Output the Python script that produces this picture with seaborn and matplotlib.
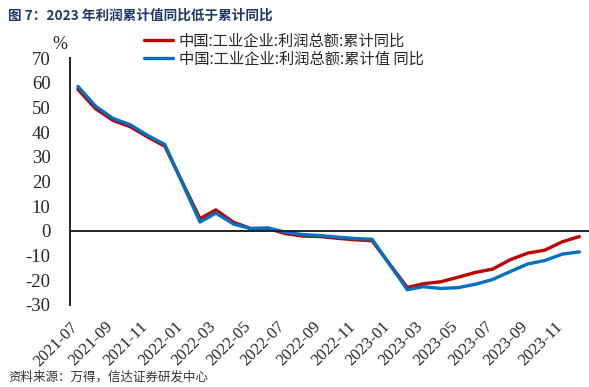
import pandas as pd
import numpy as np
import matplotlib
matplotlib.use('Agg')
import matplotlib.pyplot as plt
import matplotlib.dates as mdates
from matplotlib.font_manager import FontProperties
import seaborn as sns

# monthly data (no January release: Jan-Feb reported together)
months = ['2021-07', '2021-08', '2021-09', '2021-10', '2021-11', '2021-12',
          '2022-02', '2022-03', '2022-04', '2022-05', '2022-06', '2022-07',
          '2022-08', '2022-09', '2022-10', '2022-11', '2022-12',
          '2023-02', '2023-03', '2023-04', '2023-05', '2023-06', '2023-07',
          '2023-08', '2023-09', '2023-10', '2023-11', '2023-12']
profit_cum_yoy = [57.3, 49.5, 44.7, 42.2, 38.0, 34.3,
                  5.0, 8.5, 3.5, 1.0, 1.0, -1.1,
                  -2.1, -2.3, -3.0, -3.6, -4.0,
                  -22.9, -21.4, -20.6, -18.8, -16.8, -15.5,
                  -11.7, -9.0, -7.8, -4.4, -2.3]
profit_value_yoy = [58.5, 50.5, 45.5, 43.0, 38.6, 35.0,
                    3.6, 7.2, 2.8, 0.9, 1.2, -0.5,
                    -1.5, -1.9, -2.5, -3.1, -3.4,
                    -23.8, -22.6, -23.3, -23.0, -21.6, -19.7,
                    -16.5, -13.4, -12.0, -9.4, -8.5]
series_names = ['中国:工业企业:利润总额:累计同比', '中国:工业企业:利润总额:累计值 同比']
tick_months = ['2021-07', '2021-09', '2021-11', '2022-01', '2022-03', '2022-05',
               '2022-07', '2022-09', '2022-11', '2023-01', '2023-03', '2023-05',
               '2023-07', '2023-09', '2023-11']
y_ticks = list(range(-30, 71, 10))

cjk = ['Noto Sans CJK SC', 'DejaVu Sans']
serif = 'Liberation Serif'

sns.set_style('white')
plt.rcParams['font.family'] = cjk
plt.rcParams['axes.unicode_minus'] = False

dates = pd.to_datetime(months) + pd.Timedelta(days=14)
df = pd.concat([
    pd.DataFrame({'date': dates, 'value': profit_cum_yoy, 'series': series_names[0]}),
    pd.DataFrame({'date': dates, 'value': profit_value_yoy, 'series': series_names[1]}),
])

fig = plt.figure(figsize=(5.89, 3.87), dpi=100)
ax = fig.add_axes([0.1188, 0.2119, 0.8812, 0.6382])

sns.lineplot(data=df, x='date', y='value', hue='series', hue_order=series_names,
             palette=['#C00000', '#0070C0'], linewidth=2.4, legend=False, ax=ax)

ax.set_xlim(pd.Timestamp('2021-07-01'), pd.Timestamp('2024-01-01'))
ax.set_ylim(-30, 70)
ax.set_xlabel('')
ax.set_ylabel('')

# axes styling: x axis sits on zero, labels at the bottom
for s in ['top', 'right']:
    ax.spines[s].set_visible(False)
ax.spines['bottom'].set_position(('data', 0))
for s in ['bottom', 'left']:
    ax.spines[s].set_linewidth(1.4)
    ax.spines[s].set_color('#222222')

tick_pos = mdates.date2num(pd.to_datetime(tick_months))
ax.set_xticks(tick_pos)
ax.tick_params(axis='x', direction='out', length=5, width=1.2, color='#222222', labelbottom=False)
ax.set_yticks(y_ticks)
ax.set_yticklabels([str(v) for v in y_ticks], fontfamily=serif, fontsize=13.5)
ax.tick_params(axis='y', direction='out', length=5, width=1.2, color='#222222', pad=9)

sec = ax.secondary_xaxis('bottom')
sec.set_xticks(tick_pos, labels=tick_months)
for lbl in sec.get_xticklabels():
    lbl.set_rotation(45)
    lbl.set_ha('right')
    lbl.set_rotation_mode('anchor')
    lbl.set_fontfamily(serif)
    lbl.set_fontsize(12)
sec.tick_params(length=0, pad=10)
sec.spines['bottom'].set_visible(False)

ax.text(-0.02, 1.02, '%', transform=ax.transAxes, fontfamily=serif, fontsize=13,
        ha='center', va='bottom')

ax.legend(ax.lines[:2], series_names, loc='upper left', bbox_to_anchor=(0.232, 0.935),
          bbox_transform=fig.transFigure, frameon=False, handlelength=1.9,
          handletextpad=0.35, labelspacing=0.05, borderpad=0,
          prop=FontProperties(family=cjk, size=11))

fig.text(0.014, 0.96, '图 7：2023 年利润累计值同比低于累计同比', fontsize=9.8,
         fontweight='bold', color='#1F3864', ha='left', va='center')
fig.text(0.014, 0.008, '资料来源：万得，信达证券研发中心', fontsize=9,
         color='#333333', ha='left', va='bottom')

fig.savefig('out.png', dpi=100)
